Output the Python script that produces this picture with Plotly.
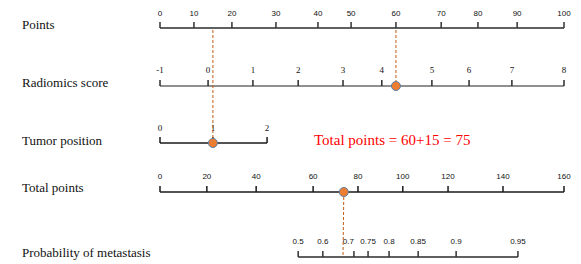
import plotly.graph_objects as go

# ---------------- data ----------------
# tick labels of each scale and the position of each tick on the "Points" scale (0-100)
points_ticks = [0, 10, 20, 30, 40, 50, 60, 70, 80, 90, 100]
points_pos = [0, 8.4, 17.8, 28.7, 39.1, 47.3, 58.4, 69.6, 78.7, 88.4, 100]

radiomics_ticks = [-1, 0, 1, 2, 3, 4, 5, 6, 7, 8]
radiomics_pos = [0, 11.9, 23.0, 34.2, 45.3, 54.9, 67.3, 76.5, 87.1, 100]

tumor_ticks = [0, 1, 2]
tumor_pos = [0, 13.1, 26.5]

total_ticks = [0, 20, 40, 60, 80, 100, 120, 140, 160]
total_pos = [0, 11.6, 23.8, 37.9, 49.0, 60.1, 71.3, 84.9, 100]

prob_ticks = [0.5, 0.6, 0.7, 0.75, 0.8, 0.85, 0.9, 0.95]
prob_pos = [34.2, 40.3, 48.0, 51.5, 56.7, 63.9, 73.3, 88.6]

# example patient
radiomics_case = 58.4   # radiomics score -> 60 points
tumor_case = 13.1       # tumor position 1 -> 15 points
total_case = 45.5       # total points 75
prob_case = 45.3

row_names = ["Points", "Radiomics score", "Tumor position", "Total points",
             "Probability of metastasis"]
summary_text = "Total points = 60+15 = 75"

# ---------------- layout constants ----------------
W, H = 581, 264
PX0, PXS = 160, 4.04          # pixel of points=0, pixels per point
xr = [-PX0 / PXS, (W - PX0) / PXS]

rows = [
    # ticks, positions, line_y, label_y, name_y, line colour, tick colour, font family, font size
    (points_ticks, points_pos, 28, 14, 24, "#2b2b2b", "#333333", "Liberation Sans", 8),
    (radiomics_ticks, radiomics_pos, 86, 71, 82, "#6b6b6b", "#2b2b2b", "Liberation Serif", 9),
    (tumor_ticks, tumor_pos, 143, 129, 140, "#1a1a1a", "#1a1a1a", "Liberation Serif", 9),
    (total_ticks, total_pos, 192, 177, 187, "#1a1a1a", "#1a1a1a", "Liberation Sans", 8),
    (prob_ticks, prob_pos, 257, 242, 252, "#2b2b2b", "#333333", "Liberation Sans", 8),
]
TICK_LEN = 6

fig = go.Figure()

for ticks, pos, ly, tly, ny, lc, tc, ff, fs in rows:
    # axis line
    fig.add_trace(go.Scatter(x=[pos[0], pos[-1]], y=[ly, ly], mode="lines",
                             line=dict(color=lc, width=1.5), hoverinfo="skip"))
    # tick marks
    tx, ty = [], []
    for p in pos:
        tx += [p, p, None]
        ty += [ly, ly - TICK_LEN, None]
    fig.add_trace(go.Scatter(x=tx, y=ty, mode="lines",
                             line=dict(color=tc, width=1.5), hoverinfo="skip"))
    # tick labels (crowded 0.7 label sits just left of its tick, as in the original)
    tpos = ["middle left" if (ticks is prob_ticks and t == 0.7) else "middle center"
            for t in ticks]
    fig.add_trace(go.Scatter(x=pos, y=[tly] * len(pos), mode="text",
                             text=[str(t) for t in ticks], textposition=tpos,
                             textfont=dict(family=ff, size=fs, color="#111111"),
                             hoverinfo="skip"))

# dashed projection lines
dash_col = "#C55A11"
fig.add_trace(go.Scatter(x=[radiomics_case, radiomics_case], y=[30, rows[1][2]],
                         mode="lines", line=dict(color=dash_col, width=1, dash="3px,2px"),
                         hoverinfo="skip"))
fig.add_trace(go.Scatter(x=[tumor_case, tumor_case], y=[30, rows[2][2]],
                         mode="lines", line=dict(color=dash_col, width=1, dash="3px,2px"),
                         hoverinfo="skip"))
fig.add_trace(go.Scatter(x=[total_case, prob_case], y=[rows[3][2], 255],
                         mode="lines", line=dict(color=dash_col, width=1, dash="3px,2px"),
                         hoverinfo="skip"))

# markers
fig.add_trace(go.Scatter(x=[radiomics_case, tumor_case, total_case],
                         y=[rows[1][2], rows[2][2], rows[3][2]], mode="markers",
                         marker=dict(size=9, color="#ED7D31",
                                     line=dict(color="#5B7FA8", width=1)),
                         hoverinfo="skip"))

# row names
for (ticks, pos, ly, tly, ny, *_), name in zip(rows, row_names):
    fig.add_annotation(x=20 / W, xref="paper", y=ny, yref="y", text=name,
                       showarrow=False, xanchor="left", yanchor="middle",
                       font=dict(family="Liberation Serif", size=13, color="#111111"))

fig.add_annotation(x=312 / W, xref="paper", y=140, yref="y", text=summary_text,
                   showarrow=False, xanchor="left", yanchor="middle",
                   font=dict(family="Liberation Serif", size=15, color="#FF0000"))

fig.update_layout(
    width=W, height=H, margin=dict(l=0, r=0, t=0, b=0),
    paper_bgcolor="white", plot_bgcolor="white", showlegend=False,
    xaxis=dict(range=xr, visible=False, fixedrange=True),
    yaxis=dict(range=[H, 0], visible=False, fixedrange=True),
    hovermode=False,
)

fig.write_html("out.html", config={"displayModeBar": False},
               post_script="document.body.style.margin='0';document.body.style.overflow='hidden';")
